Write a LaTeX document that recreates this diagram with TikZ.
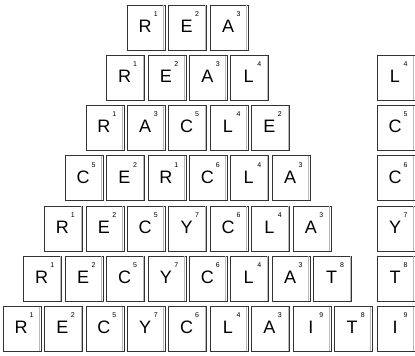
\documentclass[tikz,border=0pt]{standalone}
\usepackage{fontspec}
\setmainfont{Liberation Sans}
\tikzset{
  tilebox/.style={draw=black!80, line width=0.6pt, fill=white, minimum width=38pt,
    minimum height=45pt, inner sep=0pt, outer sep=0pt, anchor=north west},
  tileletter/.style={font=\fontsize{18}{18}\selectfont, inner sep=0pt, anchor=base},
  tilenum/.style={font=\fontsize{7}{7}\selectfont, inner sep=0pt, anchor=base},
  tileshade/.style={draw=gray!55, line width=0.5pt}
}
\newcommand{\mytile}[5]{%
  \node[tilebox] (#1) at (#2,#3) {};
  \draw[tileshade] ([xshift=-1.6pt,yshift=-0.3pt]#1.north east) -- ([xshift=-1.6pt,yshift=0.3pt]#1.south east);
  \node[tileletter] (#1l) at ([xshift=18pt,yshift=-27.5pt]#1.north west) {#4};
  \node[tilenum] (#1n) at ([xshift=28.5pt,yshift=-11.5pt]#1.north west) {#5};
}
\begin{document}
\begin{tikzpicture}[x=1pt,y=-1pt]
\useasboundingbox (0,0) rectangle (415,356);
\foreach \r/\lst in {1/{R/1,E/2,A/3},
                     2/{R/1,E/2,A/3,L/4},
                     3/{R/1,A/3,C/5,L/4,E/2},
                     4/{C/5,E/2,R/1,C/6,L/4,A/3},
                     5/{R/1,E/2,C/5,Y/7,C/6,L/4,A/3},
                     6/{R/1,E/2,C/5,Y/7,C/6,L/4,A/3,T/8},
                     7/{R/1,E/2,C/5,Y/7,C/6,L/4,A/3,I/9,T/8}}{
  \foreach \L/\n [count=\i] in \lst {
    \pgfmathsetmacro\xx{3+(7-\r)*20.7+(\i-1)*41.4}
    \pgfmathsetmacro\yy{5+(\r-1)*50.2}
    \mytile{t\r-\i}{\xx}{\yy}{\L}{\n}
  }
}
\foreach \r/\L/\n in {2/L/4,3/C/5,4/C/6,5/Y/7,6/T/8,7/I/9}{
  \pgfmathsetmacro\yy{5+(\r-1)*50.2}
  \mytile{s\r}{377}{\yy}{\L}{\n}
}
\end{tikzpicture}
\end{document}
